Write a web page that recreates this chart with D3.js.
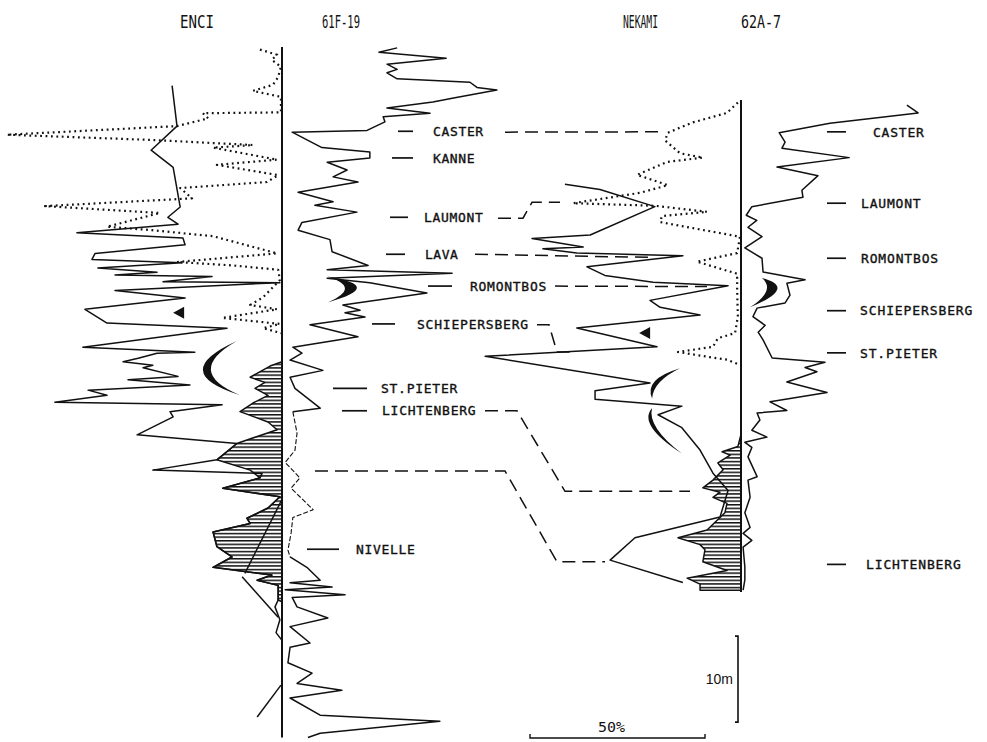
<!DOCTYPE html>
<html>
<head>
<meta charset="utf-8">
<script src="https://cdn.jsdelivr.net/npm/d3@7"></script>
<style>
  body { margin: 0; background: #fff; }
  svg { display: block; }
  text { font-family: "DejaVu Sans Mono", monospace; fill: #111; }
</style>
</head>
<body>
<svg id="chart"></svg>
<script>
// all logs: [depth (m), value (%)]
var f61Upper = [[0.1,32.9],[0.6,27.7],[1.3,46.9],[2.0,30],[2.6,32.9],[3.0,30],[3.7,32.9],[4.1,53.7],[4.7,55.7],[5.0,61.4],[5.9,49.4],[6.4,43.1],[7.1,30],[7.7,42.3],[8.1,28.9],[8.7,29.4],[9.7,24.3],[9.9,2.9],[11.7,11.4],[12.2,25.1],[12.9,25.1],[13.4,12.9],[14.3,18.6],[15.1,14.6],[15.7,21.7],[16.9,4.6],[18.0,14.6],[18.4,9.4],[19.2,21.4],[20.4,5.7],[21.3,4.6],[22.4,13.7],[23.8,14.3],[25.4,24.6],[25.9,12.9],[26.3,48.6],[26.9,12.9],[27.4,25.1],[28.6,41.4],[30.0,17.4],[30.6,22.3],[30.9,18],[31.4,23.7],[32.3,8],[33.7,21.7],[34.9,3.1],[35.6,5.7],[36.4,2.3],[37.6,11.7],[38.4,2.3],[39.7,3.7],[42.0,10.9],[42.4,3.1]];
var f61Mid = [[42.4,3.1],[44.9,4.3],[46.9,3.7],[48.3,0.9],[50.1,5.1],[51.3,2.6],[53.8,8.9],[54.7,3.1],[56.5,2.6],[58.5,1.7],[59.3,2.3]];
var f61Lower = [[59.3,2.3],[60.5,7.1],[62.0,10.9],[62.3,2.3],[62.8,14.3],[63.1,0.9],[63.7,18],[64.0,2.9],[65.1,4.3],[66.4,13.1],[67.4,2.3],[69.3,8],[69.8,2.3],[71.6,1.7],[72.8,8.6],[74.0,4.3],[74.8,17.1],[75.7,2.3],[77.7,10.9],[78.4,45.1],[79.8,10.9],[80.3,7.4]];

var enciDotted = [[0.3,6.3],[0.9,1.4],[1.5,2.9],[2.3,0.3],[3.5,1.1],[4.4,2.6],[5.1,8.3],[5.8,0.3],[7.6,0.3],[7.7,22.6],[8.3,21.1],[9.2,30],[10.2,78.6],[10.8,37.7],[11.4,8.3],[11.7,19.7],[13.1,1.4],[13.7,18.6],[14.9,1.1],[15.7,4.3],[16.4,29.1],[17.6,25.7],[18.5,67.7],[19.3,34.9],[20.9,50],[21.3,37.1],[22.0,19.7],[24.0,1.4],[25.0,30],[25.4,14],[25.9,1.1],[27.1,0.6],[29.1,5.4],[30.0,9.1],[30.5,1.4],[31.5,17.1],[32.2,0.6],[32.7,5.4],[33.3,0]];
var enciSolid = [[4.5,31.4],[9.2,30],[12.0,37.4],[14.0,31.1],[18.6,29.1],[19.8,32.6],[20.6,29.7],[21.6,58.6],[22.2,28.3],[23.0,27.7],[24.0,53.4],[24.7,54.3],[25.1,28.6],[25.7,52.6],[26.2,35.7],[26.5,47.7],[26.7,20],[27.3,34],[27.4,0.6],[28.3,47.7],[29.2,27.7],[30.5,56.3],[32.1,50],[32.7,15.7],[34.9,56.9],[35.5,24.9],[35.6,35.7],[36.2,41.1],[36.6,45.4],[37.0,36.9],[37.3,39.7],[38.3,29.7],[38.7,44],[39.3,26.3],[39.9,55.4],[40.5,50],[41.3,64.9],[41.6,17.1],[42.4,32],[43.0,31.1],[45.1,41.4],[46.1,12.9],[48.0,18.6],[49.2,36.9],[49.6,5.7],[50.1,6.3],[51.3,16.9],[52.3,0.6],[53.6,4],[54.8,10],[55.4,9.1],[56.4,19.7],[58.1,18.6],[59.3,14.3],[60.5,19.7],[61.4,2.9],[62.0,7.1],[62.6,1.1],[64.3,1.1],[65.1,2],[66.6,0.6],[68.1,1.7],[69.0,0]];
var enciHatch = [[36.6,0],[37.1,3.4],[38.4,9.1],[39.0,4.9],[39.7,7.7],[40.5,4],[41.4,8.3],[42.4,12],[43.6,4],[44.5,1.4],[46.1,12.9],[48.0,18.6],[49.2,9.1],[50.1,6.3],[51.3,16.9],[52.3,0.6],[53.6,4],[54.8,10],[55.4,9.1],[56.4,19.7],[58.1,18.6],[59.3,14.3],[60.5,19.7],[61.4,2.9],[62.0,7.1],[62.6,1.1],[64.3,1.1],[64.5,0]];
var enciTrends = [[[52.6,0],[61.2,10.6]], [[61.6,11.4],[66.3,1.1]], [[74.2,0.3],[77.9,7.1]]];

var nekDotted = [[0.3,0.9],[1.5,4],[2.6,13.7],[3.8,20.9],[4.7,21.7],[6.2,17.4],[6.7,10.9],[7.2,21.1],[8.7,29.7],[9.9,20.9],[10.8,28.9],[12.0,48],[12.3,24.6],[13.0,9.7],[13.5,22.6],[14.2,23.1],[15.9,0.3],[17.8,1.1],[18.8,12.6],[20.2,1.1],[22.1,1.1],[25.2,0.9],[27.1,1.7],[27.7,6.6],[28.7,8],[29.3,18],[29.9,8.9],[30.2,4],[30.7,0.9]];
var nekSolid = [[9.8,50.3],[10.4,40.3],[12.4,24.6],[15.7,43.1],[16.1,59.7],[17.1,45.1],[17.3,56.6],[17.8,46.9],[18.1,16.6],[19.4,44],[20.4,38.9],[21.2,25.1],[21.6,3.7],[23.3,26],[24.1,23.1],[25.0,11.7],[26.5,46.9],[28.7,24],[29.8,73.1],[32.9,26],[33.8,41.7],[34.8,41.7],[35.6,16.9],[36.6,23.7],[38.1,16.9],[40.7,11.7],[43.4,8],[45.4,3.7],[48.5,6],[50.9,30.3],[53.5,37.4],[56.1,16.6]];
var nekHatch = [[38.9,0],[40.3,0.9],[40.9,5.4],[41.3,3.1],[42.2,6.6],[43.0,5.1],[44.2,8],[45.1,10.9],[45.6,6],[46.2,8],[46.9,4],[48.0,4.6],[50.0,9.7],[50.9,18],[51.7,11.7],[52.3,10.3],[53.7,10.9],[54.7,4],[55.6,15.4],[56.3,11.7],[57.0,11.7],[57.0,0]];
var a62Log = [[0.6,47.4],[1.5,50.6],[2.7,25.4],[3.8,10.9],[4.9,12.6],[5.6,11.7],[6.7,30.9],[7.8,10.3],[8.8,22],[10.5,17.4],[11.3,17.7],[12.4,3.1],[13.4,1.5],[14.0,4.5],[14.8,2],[15.9,6],[17.2,1.1],[18.4,6],[20.0,6.3],[20.9,18.3],[21.3,13.1],[22.7,14],[23.6,12.6],[24.2,4.6],[25.2,3.4],[26.2,6.9],[27.0,4.9],[27.9,6.3],[30.0,8.9],[30.5,24],[31.1,18.3],[31.6,21.7],[32.8,13.1],[34.0,24.6],[35.1,8.3],[36.1,13.1],[36.4,4.6],[37.2,5.4],[38.4,3.1],[39.2,7.4],[39.8,1.1],[40.4,3.1],[41.5,2],[43.8,4.6],[44.2,2],[46.2,2.6],[48.0,1.1],[49.7,2.6],[50.4,0.6],[51.2,3.1],[52.0,0.6],[54.3,1.1],[55.8,1.1],[57.0,0.6]];

// crescent symbols: tip A, tip B, outer bulge, each [depth, value]
var crescentEnci = [[34.2,12.9],[40.5,12.0],[37.6,22.6]];
var crescent61 = [[26.7,12.9],[29.7,13.1],[28.0,21.4]];
var crescent62 = [[20.7,6.0],[24.1,2.6],[22.1,10.3]];
var crescentNekTop = [[31.2,17.4],[34.7,25.4],[32.7,24.6]];
var crescentNekBot = [[35.8,25.4],[41.1,16.9],[38.1,25.4]];
var triangleEnci = [30.9, 31.1];
var triangleNek = [27.1, 29.1];

// formation tops
var f61Forms = ["CASTER","KANNE","LAUMONT","LAVA","ROMONTBOS","SCHIEPERSBERG","ST.PIETER","LICHTENBERG","NIVELLE"];
var f61FormDepth = [9.8, 12.9, 19.8, 24.1, 27.8, 32.2, 39.7, 42.3, 58.4];
var a62Forms = ["CASTER","LAUMONT","ROMONTBOS","SCHIEPERSBERG","ST.PIETER","LICHTENBERG"];
var a62FormDepth = [3.7, 12.0, 18.4, 24.5, 29.4, 54.0];
// correlations: depth at 61F-19 side, depth at NEKAMI side
var corrFrom = [9.9, 19.9, 24.1, 27.8, 32.3, 42.3, 49.3];
var corrTo = [3.7, 11.9, 18.3, 21.7, 29.3, 45.5, 53.7];
var wells = ["ENCI", "61F-19", "NEKAMI", "62A-7"];

var width = 987, height = 742;
var svg = d3.select("#chart").attr("width", width).attr("height", height);

var yE = d3.scaleLinear().domain([0, 80]).range([47, 47 + 80 * 8.6]);
var yN = d3.scaleLinear().domain([0, 60]).range([100, 100 + 60 * 8.6]);
var xEnci = d3.scaleLinear().domain([0, 100]).range([282, 282 - 350]);
var x61 = d3.scaleLinear().domain([0, 100]).range([282, 632]);
var xNek = d3.scaleLinear().domain([0, 100]).range([741, 391]);
var x62 = d3.scaleLinear().domain([0, 100]).range([741, 1091]);

svg.append("defs").append("pattern")
  .attr("id", "hatch").attr("patternUnits", "userSpaceOnUse")
  .attr("width", 8).attr("height", 3.6)
  .append("rect").attr("width", 8).attr("height", 1.5).attr("fill", "#111");

function logLine(xs, ys) {
  return d3.line().x(function (d) { return xs(d[1]); }).y(function (d) { return ys(d[0]); });
}
function hatchArea(xs, ys) {
  return d3.area().y(function (d) { return ys(d[0]); })
    .x0(xs(0)).x1(function (d) { return xs(d[1]); });
}
function drawLog(data, xs, ys, w, dash) {
  svg.append("path").datum(data)
    .attr("d", logLine(xs, ys))
    .attr("fill", "none").attr("stroke", "#111")
    .attr("stroke-width", w)
    .attr("stroke-linejoin", "round")
    .attr("stroke-dasharray", dash || null);
}
function crescent(pts, xs, ys, thick) {
  var p = pts.map(function (d) { return [xs(d[1]), ys(d[0])]; });
  var a = p[0], b = p[1], o = p[2];
  var m = [(a[0] + b[0]) / 2, (a[1] + b[1]) / 2];
  var dx = m[0] - o[0], dy = m[1] - o[1], len = Math.sqrt(dx * dx + dy * dy);
  var inner = [o[0] + dx * thick / len, o[1] + dy * thick / len];
  var c1 = [2 * o[0] - m[0], 2 * o[1] - m[1]];
  var c2 = [2 * inner[0] - m[0], 2 * inner[1] - m[1]];
  svg.append("path")
    .attr("d", "M" + a + "Q" + c1 + " " + b + "Q" + c2 + " " + a + "Z")
    .attr("fill", "#111");
}
function triangle(t, xs, ys) {
  var x = xs(t[1]), y = ys(t[0]);
  svg.append("path")
    .attr("d", "M" + x + "," + y + "L" + (x + 11) + "," + (y - 6) + "L" + (x + 11) + "," + (y + 6) + "Z")
    .attr("fill", "#111");
}

// hatched intervals
svg.append("path").datum(enciHatch).attr("d", hatchArea(xEnci, yE)).attr("fill", "url(#hatch)");
svg.append("path").datum(nekHatch).attr("d", hatchArea(xNek, yN)).attr("fill", "url(#hatch)");

// ENCI / 61F-19
drawLog(enciDotted, xEnci, yE, 2.2, "1.8,3.6");
drawLog(enciSolid, xEnci, yE, 1.5);
drawLog(enciHatch, xEnci, yE, 1.5);
enciTrends.forEach(function (t) { drawLog(t, xEnci, yE, 1.5); });
drawLog(f61Upper, x61, yE, 1.5);
drawLog(f61Mid, x61, yE, 1.1, "5,2");
drawLog(f61Lower, x61, yE, 1.5);

// NEKAMI / 62A-7
drawLog(nekDotted, xNek, yN, 2.2, "1.8,3.6");
drawLog(nekSolid, xNek, yN, 1.5);
drawLog(nekHatch, xNek, yN, 1.5);
drawLog(a62Log, x62, yN, 1.5);

// well axes
svg.append("line").attr("x1", xEnci(0)).attr("x2", xEnci(0))
  .attr("y1", yE(0)).attr("y2", yE(80.3)).attr("stroke", "#111").attr("stroke-width", 2);
svg.append("line").attr("x1", xNek(0)).attr("x2", xNek(0))
  .attr("y1", yN(0)).attr("y2", yN(57.2)).attr("stroke", "#111").attr("stroke-width", 2);

// symbols
crescent(crescentEnci, xEnci, yE, 8);
crescent(crescent61, x61, yE, 12);
crescent(crescent62, x62, yN, 11);
crescent(crescentNekTop, xNek, yN, 5);
crescent(crescentNekBot, xNek, yN, 5);
triangle(triangleEnci, xEnci, yE);
triangle(triangleNek, xNek, yN);

// correlation lines (x bends are layout only)
var corrBends = [
  [[505, 0], [660, 1]],
  [[498, 0], [523, 0], [532, 1], [560, 1]],
  [[475, 0], [650, 1]],
  [[555, 0], [707, 1]],
  [[537, 0], [549, 0], [557, 1], [575, 1]],
  [[485, 0], [517, 0], [565, 1], [690, 1]],
  [[315, 0], [505, 0], [557, 1], [605, 1]]
];
corrBends.forEach(function (bends, i) {
  var pts = bends.map(function (b) { return [b[0], b[1] ? yN(corrTo[i]) : yE(corrFrom[i])]; });
  svg.append("path").attr("d", d3.line()(pts))
    .attr("fill", "none").attr("stroke", "#111").attr("stroke-width", 1.5)
    .attr("stroke-dasharray", "13,7");
});

// formation labels
var f61Tick = [[398,413],[392,413],[390,408],[386,405],[428,452],[372,395],[333,367],[342,367],[307,339]];
var f61TextX = [433, 433, 424, 425, 470, 417, 381, 382, 356];
f61Forms.forEach(function (name, i) {
  var y = yE(f61FormDepth[i]);
  svg.append("line").attr("x1", f61Tick[i][0]).attr("x2", f61Tick[i][1])
    .attr("y1", y).attr("y2", y).attr("stroke", "#111").attr("stroke-width", 1.7);
  svg.append("text").attr("x", f61TextX[i]).attr("y", y).attr("dy", "0.36em")
    .attr("font-size", 13).attr("textLength", name.length * 8.7 - 2)
    .attr("stroke", "#111").attr("stroke-width", 0.35)
    .text(name);
});
var a62TextX = [873, 861, 861, 860, 860, 866];
a62Forms.forEach(function (name, i) {
  var y = yN(a62FormDepth[i]);
  svg.append("line").attr("x1", 827).attr("x2", 846)
    .attr("y1", y).attr("y2", y).attr("stroke", "#111").attr("stroke-width", 1.7);
  svg.append("text").attr("x", a62TextX[i]).attr("y", y).attr("dy", "0.36em")
    .attr("font-size", 13).attr("textLength", name.length * 8.8 - 2)
    .attr("stroke", "#111").attr("stroke-width", 0.35)
    .text(name);
});

// well names
var wellX = [180, 322, 623, 741];
var wellW = [34, 38, 35, 40];
wells.forEach(function (name, i) {
  svg.append("text").attr("x", wellX[i]).attr("y", 28)
    .attr("font-size", 18).attr("textLength", wellW[i])
    .attr("lengthAdjust", "spacingAndGlyphs")
    .text(name);
});

// scale bars
var barX = 738;
svg.append("path")
  .attr("d", "M" + (barX - 3) + "," + yE(68.5) + "H" + barX + "V" + yE(78.5) + "H" + (barX - 3))
  .attr("fill", "none").attr("stroke", "#111").attr("stroke-width", 1.6);
svg.append("text").attr("x", 733).attr("y", yE(73.5)).attr("dy", "0.36em")
  .attr("text-anchor", "end").attr("font-size", 14)
  .style("font-family", "'Liberation Sans', Arial, sans-serif")
  .text("10m");
var pct = d3.scaleLinear().domain([0, 50]).range([530, 530 + 50 * 3.5]);
svg.append("path")
  .attr("d", "M" + pct(0) + ",734V738H" + pct(50) + "V734")
  .attr("fill", "none").attr("stroke", "#111").attr("stroke-width", 1.4);
svg.append("text").attr("x", 598).attr("y", 732)
  .attr("font-size", 14).attr("textLength", 27).attr("lengthAdjust", "spacingAndGlyphs")
  .text("50%");
</script>
</body>
</html>
